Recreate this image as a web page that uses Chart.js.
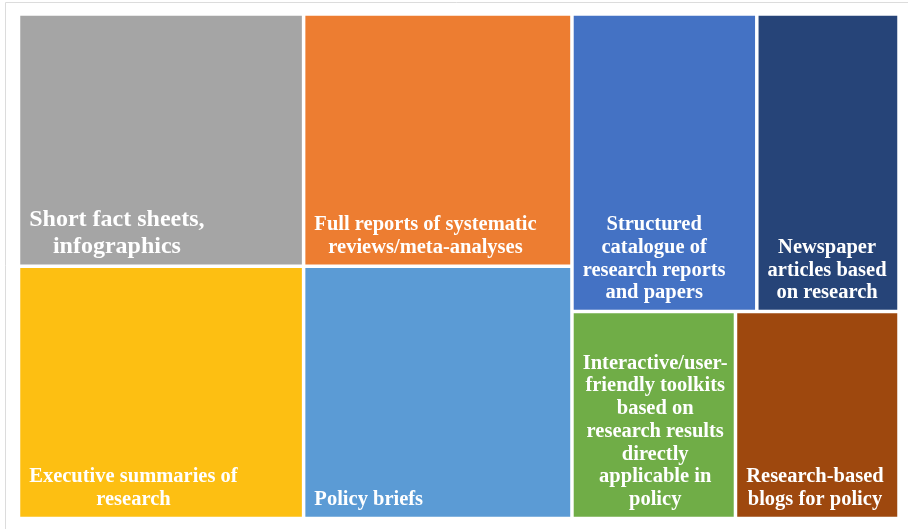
<!DOCTYPE html>
<html>
<head>
<meta charset="utf-8">
<title>Treemap</title>
<script src="https://cdn.jsdelivr.net/npm/chart.js@4.4.1/dist/chart.umd.min.js"></script>
<style>
  body { margin: 0; background: #ffffff; }
  #wrap { width: 908px; height: 529px; }
</style>
</head>
<body>
<div id="wrap"><canvas id="treemap" width="908" height="529"></canvas></div>
<script>
// categories and their counts
const categories = [
  'Short fact sheets, infographics',
  'Executive summaries of research',
  'Full reports of systematic reviews/meta-analyses',
  'Policy briefs',
  'Structured catalogue of research reports and papers',
  'Newspaper articles based on research',
  'Interactive/user-friendly toolkits based on research results directly applicable in policy',
  'Research-based blogs for policy'
];
const counts = [17, 17, 16, 16, 13, 10, 8, 8];
const cellColors = ['#a5a5a5', '#fdbf12', '#ed7d31', '#5b9bd5', '#4472c4', '#264478', '#70ad47', '#9e480e'];

const sum = arr => arr.reduce((a, b) => a + b, 0);

// mean aspect ratio of a strip of areas laid along a side
const meanAspect = (areas, side) => {
  const thick = sum(areas) / side;
  return sum(areas.map(a => {
    const len = a / thick;
    return Math.max(thick / len, len / thick);
  })) / areas.length;
};

// squarified layout, strips are kept while the mean aspect ratio improves
const squarify = (values, rect) => {
  const order = values.map((v, i) => i).sort((a, b) => values[b] - values[a] || a - b);
  const k = rect.w * rect.h / sum(values);
  const out = [];
  let r = { ...rect };
  let i = 0;
  while (i < order.length) {
    const vertical = r.w >= r.h;
    const side = vertical ? r.h : r.w;
    let strip = [order[i]];
    let best = meanAspect([values[order[i]] * k], side);
    let j = i + 1;
    while (j < order.length) {
      const next = meanAspect(strip.concat(order[j]).map(n => values[n] * k), side);
      if (next > best) break;
      strip.push(order[j]);
      best = next;
      j++;
    }
    const thick = sum(strip.map(n => values[n] * k)) / side;
    let off = 0;
    strip.forEach(n => {
      const len = values[n] * k / thick;
      out[n] = vertical
        ? { x: r.x, y: r.y + off, w: thick, h: len }
        : { x: r.x + off, y: r.y, w: len, h: thick };
      off += len;
    });
    if (vertical) { r.x += thick; r.w -= thick; } else { r.y += thick; r.h -= thick; }
    i = j;
  }
  return out;
};

class TreemapController extends Chart.DatasetController {
  update(mode) {
    const meta = this._cachedMeta;
    this.updateElements(meta.data, 0, meta.data.length, mode);
  }

  updateElements(rects, start, count, mode) {
    const { xScale, yScale } = this._cachedMeta;
    const x0 = xScale.getPixelForValue(xScale.min);
    const x1 = xScale.getPixelForValue(xScale.max);
    const y0 = yScale.getPixelForValue(yScale.min);
    const y1 = yScale.getPixelForValue(yScale.max);
    const area = {
      x: Math.min(x0, x1), y: Math.min(y0, y1),
      w: Math.abs(x1 - x0), h: Math.abs(y1 - y0)
    };
    const cells = squarify(this.getDataset().data, area);
    for (let i = start; i < start + count; i++) {
      const c = cells[i];
      Object.assign(rects[i], {
        x: c.x + c.w / 2,
        y: c.y,
        base: c.y + c.h,
        width: c.w,
        height: c.h,
        horizontal: false,
        borderSkipped: {},
        inflateAmount: 0,
        enableBorderRadius: false,
        options: this.resolveDataElementOptions(i, 'none')
      });
    }
  }
}
TreemapController.id = 'treemap';
TreemapController.defaults = { dataElementType: 'bar', datasetElementType: false };
TreemapController.overrides = {
  scales: { x: { type: 'linear' }, y: { type: 'linear' } }
};
Chart.register(TreemapController);

// white bold labels, wrapped inside each cell, stacked from the bottom
const cellLabels = {
  id: 'cellLabels',
  afterDatasetsDraw(chart, args, opts) {
    const { ctx } = chart;
    const meta = chart.getDatasetMeta(0);
    const bw = opts.inset;
    meta.data.forEach((el, i) => {
      const size = opts.sizes[i] || opts.size;
      ctx.save();
      ctx.font = `bold ${size}px "Liberation Serif", "Times New Roman", serif`;
      ctx.fillStyle = '#ffffff';
      ctx.textBaseline = 'alphabetic';
      ctx.textAlign = 'center';
      const left = el.x - el.width / 2 + bw;
      const right = el.x + el.width / 2 - bw;
      const bottom = el.base - bw;
      const maxW = right - left - 2 * opts.padX;

      // break at spaces and after hyphens
      const pieces = [];
      chart.data.labels[i].split(' ').forEach(word => {
        word.split(/(?<=-)/).forEach((p, k) => pieces.push({ text: p, space: k === 0 }));
      });
      const lines = [];
      let line = '';
      pieces.forEach(p => {
        const trial = line ? line + (p.space ? ' ' : '') + p.text : p.text;
        if (line && ctx.measureText(trial).width > maxW) {
          lines.push(line);
          line = p.text;
        } else {
          line = trial;
        }
      });
      if (line) lines.push(line);

      const blockW = Math.max(...lines.map(l => ctx.measureText(l).width));
      const cx = left + opts.padX + 1 + blockW / 2;
      const lh = size * opts.lineHeight;
      lines.forEach((l, n) => {
        ctx.fillText(l, cx, bottom - opts.padBottom - (lines.length - 1 - n) * lh);
      });
      ctx.restore();
    });
  }
};

// thin grey frame along the top and left edge of the picture
const frame = {
  id: 'frame',
  beforeDraw(chart) {
    const { ctx, width, height } = chart;
    ctx.save();
    ctx.fillStyle = '#ffffff';
    ctx.fillRect(0, 0, width, height);
    ctx.strokeStyle = '#dcdcdc';
    ctx.lineWidth = 1;
    ctx.beginPath();
    ctx.moveTo(5.5, height);
    ctx.lineTo(5.5, 2.5);
    ctx.lineTo(width, 2.5);
    ctx.stroke();
    ctx.restore();
  }
};

new Chart(document.getElementById('treemap'), {
  type: 'treemap',
  data: {
    labels: categories,
    datasets: [{
      data: counts,
      backgroundColor: cellColors,
      borderColor: '#ffffff',
      borderWidth: 1.75
    }]
  },
  options: {
    responsive: false,
    animation: false,
    events: [],
    layout: { padding: { left: 18.5, top: 14, right: 9, bottom: 10.5 } },
    scales: {
      x: { type: 'linear', display: false, min: 0, max: 1 },
      y: { type: 'linear', display: false, min: 0, max: 1, reverse: true }
    },
    plugins: {
      legend: { display: false },
      tooltip: { enabled: false },
      cellLabels: { size: 20.5, sizes: [24], lineHeight: 1.11, padX: 8, padBottom: 11.5, inset: 1.75 }
    }
  },
  plugins: [frame, cellLabels]
});
</script>
</body>
</html>
